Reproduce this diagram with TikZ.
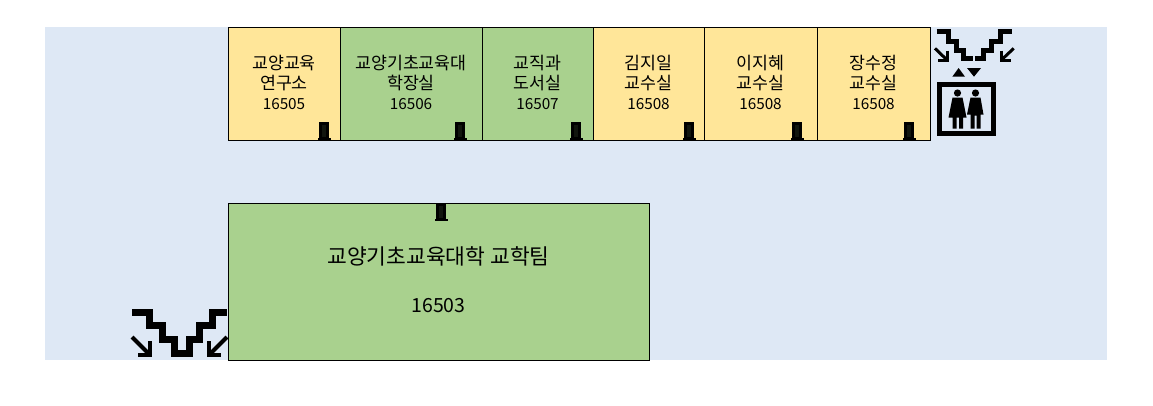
\documentclass[tikz,border=0pt]{standalone}
\usepackage{fontspec}
\setmainfont{Noto Sans CJK KR}
\usetikzlibrary{positioning}
\definecolor{floorblue}{HTML}{DEE8F5}
\definecolor{roomyellow}{HTML}{FFE699}
\definecolor{roomgreen}{HTML}{A9D18E}
\newcommand{\roomno}[1]{{\fontsize{15.3}{20}\selectfont #1}}
\newcommand{\teamno}[1]{{\fontsize{19.5}{48}\selectfont #1}}
\tikzset{
  x = 1pt, y = -1pt, node distance = 0pt,
  room/.style = {draw, line width = 0.9pt, inner sep = 0pt, outer sep = 0pt, align = center,
    minimum height = 113pt, text depth = 3pt, font = \fontsize{17.3}{20}\selectfont},
  yellowroom/.style = {room, fill = roomyellow},
  greenroom/.style = {room, fill = roomgreen},
  door/.pic = {
    \fill (0,0) rectangle (10,18);
    \fill (-1.5,16) rectangle (11.5,18);
    \fill [black!90!roomgreen] (3,3) rectangle (7,15);
  },
  stairs/.pic = {
    \draw [line width = 7pt]
      (0,0) -- (17,0) -- (17,13) -- (30,13) -- (30,27) -- (42,27) -- (42,41)
      -- (57,41) -- (57,27) -- (67,27) -- (67,13) -- (80,13) -- (80,0) -- (95,0);
    \draw [line width = 4pt] (0,25) -- (17,42);
    \draw [line width = 4pt] (18,29) -- (18,43) -- (6,43);
    \draw [line width = 4pt] (95,25) -- (78,42);
    \draw [line width = 4pt] (77,29) -- (77,43) -- (89,43);
  },
  liftstairs/.pic = {
    \draw [line width = 5pt] (0,0) -- (11.7,0) -- (11.7,10) -- (20,10) -- (20,18.3)
      -- (26.7,18.3) -- (26.7,26.7) -- (36.7,26.7);
    \draw [line width = 5pt] (75,0) -- (63.3,0) -- (63.3,10) -- (55,10) -- (55,18.3)
      -- (46.7,18.3) -- (46.7,26.7) -- (38.3,26.7);
    \draw [line width = 3pt] (-1.7,16.7) -- (10,28);
    \draw [line width = 3pt] (10.7,19) -- (10.7,29) -- (1,29);
    \draw [line width = 3pt] (77,16.7) -- (65,28);
    \draw [line width = 3pt] (64.3,19) -- (64.3,29) -- (74,29);
  },
  lift/.pic = {
    \draw [line width = 5pt] (0,0) rectangle (54,49);
    \fill (18,8.5) circle (3.6);
    \fill (36,8.5) circle (3.6);
    \fill (13,13) -- (23,13) -- (27,33) -- (23.5,33) -- (23.5,44) -- (19.5,44) -- (19.5,33) -- (17,33)
      -- (17,44) -- (13,44) -- (13,33) -- (9,33) -- cycle;
    \fill (31,13) -- (41,13) -- (44,30) -- (41,30) -- (41,44) -- (37,44) -- (37,31) -- (35,31)
      -- (35,44) -- (31,44) -- (31,30) -- (27.5,30) -- cycle;
    \fill (12.8,-7.8) -- (25.5,-7.8) -- (19.1,-16.5) -- cycle;
    \fill (27.5,-16.5) -- (41.5,-16.5) -- (34.5,-7.8) -- cycle;
  }
}

\begin{document}
\begin{tikzpicture}
  \useasboundingbox (0,0) rectangle (1153,405);
  % floor
  \fill [floorblue] (45,27) rectangle (1107,360);
  % rooms
  \node [yellowroom, minimum width = 112pt] (r16505) at (284,83.5) {교양교육\\연구소\\\roomno{16505}};
  \node [greenroom, minimum width = 142pt, right = of r16505] (r16506) {교양기초교육대\\학장실\\\roomno{16506}};
  \node [greenroom, minimum width = 111pt, right = of r16506] (r16507) {교직과\\도서실\\\roomno{16507}};
  \node [yellowroom, minimum width = 111pt, right = of r16507] (r16508a) {김지일\\교수실\\\roomno{16508}};
  \node [yellowroom, minimum width = 113pt, right = of r16508a] (r16508b) {이지혜\\교수실\\\roomno{16508}};
  \node [yellowroom, minimum width = 113pt, right = of r16508b] (r16508c) {장수정\\교수실\\\roomno{16508}};
  \node [greenroom, minimum width = 421pt, minimum height = 157pt,
    font = \fontsize{21.5}{48}\selectfont] (r16503) at (438.5,281.5) {교양기초교육대학 교학팀\\\teamno{16503}};
  % doors
  \path (319,122) pic {door};
  \path (455,122) pic {door};
  \path (571,122) pic {door};
  \path (684,122) pic {door};
  \path (792,122) pic {door};
  \path (904,122) pic {door};
  \path (436,203) pic {door};
  % stairs and lift
  \path (132,312) pic {stairs};
  \path (936.7,31.7) pic {liftstairs};
  \path (939.5,84.5) pic {lift};
\end{tikzpicture}
\end{document}
